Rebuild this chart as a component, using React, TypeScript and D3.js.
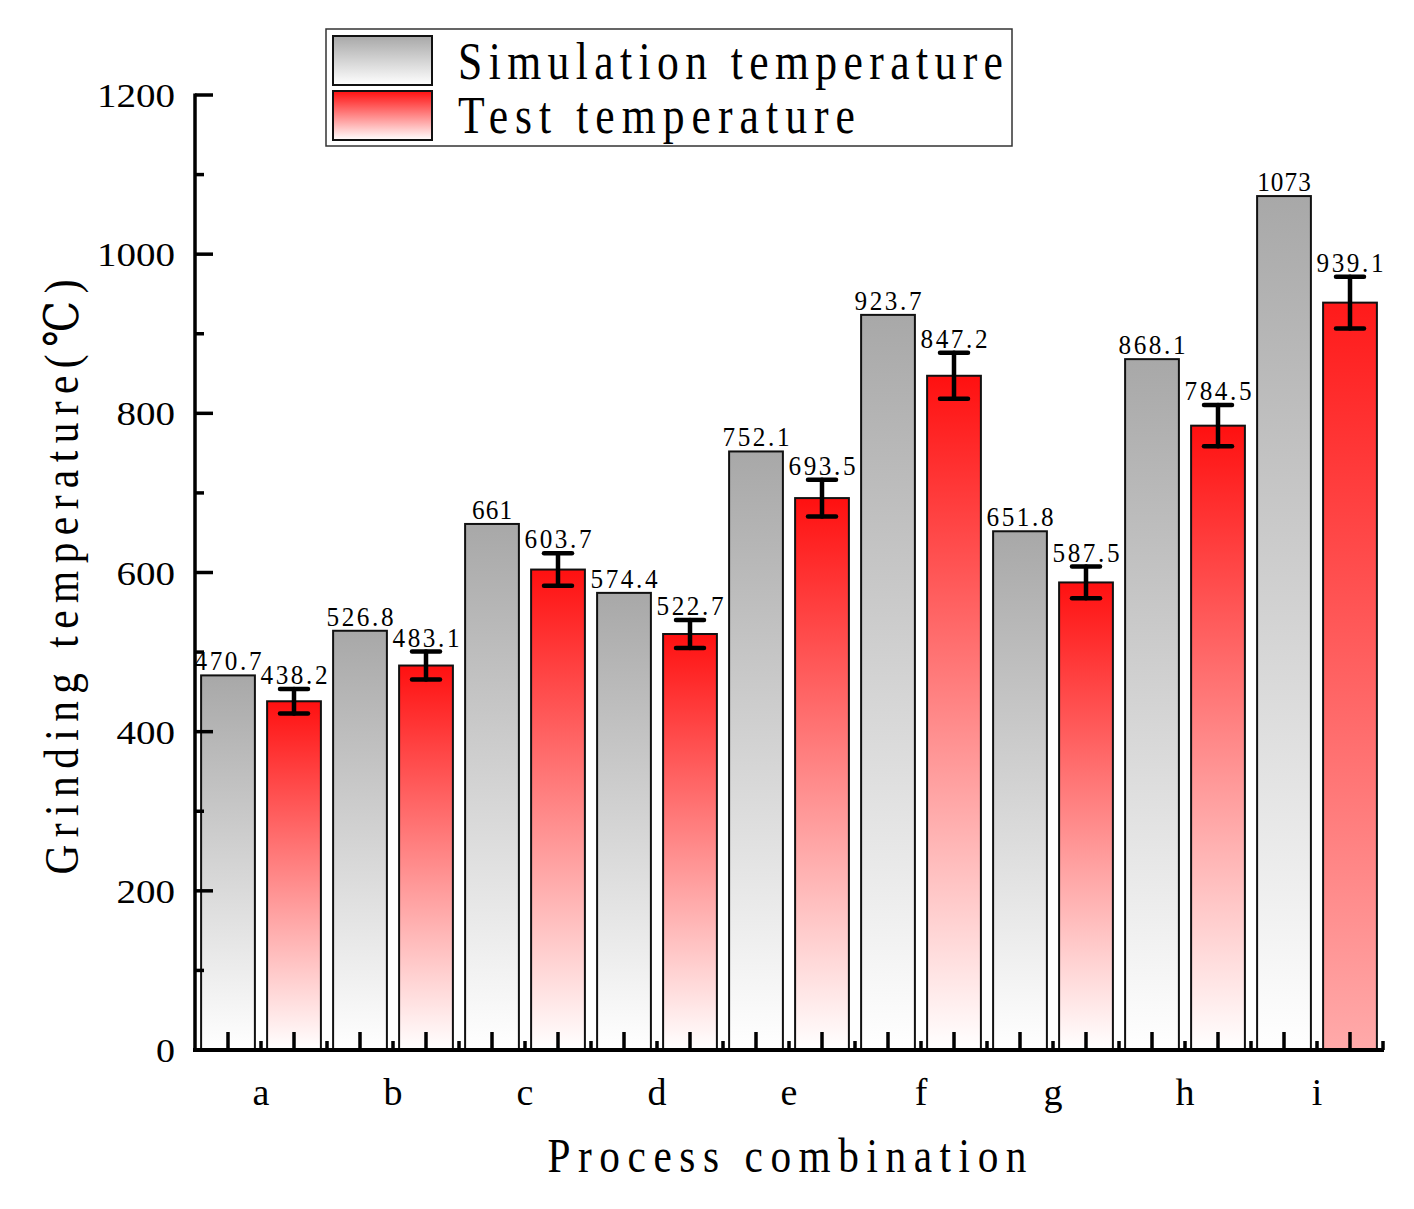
import * as d3 from "d3";

const categories = ["a", "b", "c", "d", "e", "f", "g", "h", "i"];
const simulation = [470.7, 526.8, 661, 574.4, 752.1, 923.7, 651.8, 868.1, 1073];
const test = [438.2, 483.1, 603.7, 522.7, 693.5, 847.2, 587.5, 784.5, 939.1];
const testError = [15.5, 17.5, 20.5, 17.5, 23, 29, 20, 26, 32.5];
const simLabels = ["470.7", "526.8", "661", "574.4", "752.1", "923.7", "651.8", "868.1", "1073"];
const testLabels = ["438.2", "483.1", "603.7", "522.7", "693.5", "847.2", "587.5", "784.5", "939.1"];
const yTicks = [0, 200, 400, 600, 800, 1000, 1200];

const W = 1414;
const H = 1209;
const FONT = "'Liberation Serif', 'DejaVu Serif', serif";

// narrow glyphs spread out to a given width, imitating the original's CJK serif font
function SText(props: {
  x: number;
  y: number;
  size: number;
  len: number;
  anchor?: string;
  sx?: number;
  rotate?: number;
  children: string;
}) {
  const sx = props.sx ?? 0.85;
  const rot = props.rotate ? ` rotate(${props.rotate})` : "";
  return (
    <text
      transform={`translate(${props.x},${props.y})${rot} scale(${sx},1)`}
      textAnchor={props.anchor ?? "start"}
      fontSize={props.size}
      textLength={props.len / sx}
      lengthAdjust="spacing"
    >
      {props.children}
    </text>
  );
}

export default function App() {
  const nBars = categories.length * 2;
  const x = d3.scaleLinear().domain([-0.5, nBars - 0.5]).range([195, 1383]);
  const y = d3.scaleLinear().domain([0, 1200]).range([1050, 95]);
  const step = x(1) - x(0);
  const barW = step * 0.815;

  const majorX = d3.range(0, nBars);
  const minorX = d3.range(0.5, nBars, 1);
  const minorY = d3.range(100, 1200, 200);

  const labelLen = (s: string) => s.length * 13.4;

  return (
    <svg
      width={W}
      height={H}
      viewBox={`0 0 ${W} ${H}`}
      style={{ position: "absolute", left: 0, top: 0, background: "#fff" }}
      fontFamily={FONT}
    >
      <defs>
        <linearGradient id="gSim" x1="0" y1="0" x2="0" y2="1">
          <stop offset="0" stopColor="#a8a8a8" />
          <stop offset="1" stopColor="#ffffff" />
        </linearGradient>
        <linearGradient id="gTest" x1="0" y1="0" x2="0" y2="1">
          <stop offset="0" stopColor="#ff1010" />
          <stop offset="1" stopColor="#ffffff" />
        </linearGradient>
        <linearGradient id="gTestLast" x1="0" y1="0" x2="0" y2="1">
          <stop offset="0" stopColor="#ff1a1a" />
          <stop offset="1" stopColor="#ffaaaa" />
        </linearGradient>
      </defs>

      {/* bars */}
      {categories.map((c, i) => {
        const xs = x(i * 2);
        const xt = x(i * 2 + 1);
        const ys = y(simulation[i]);
        const yt = y(test[i]);
        const eTop = y(test[i] + testError[i]);
        const eBot = y(test[i] - testError[i]);
        return (
          <g key={c}>
            <rect
              x={xs - barW / 2}
              y={ys}
              width={barW}
              height={y(0) - ys}
              fill="url(#gSim)"
              stroke="#111"
              strokeWidth={2}
            />
            <rect
              x={xt - barW / 2}
              y={yt}
              width={barW}
              height={y(0) - yt}
              fill={i === categories.length - 1 ? "url(#gTestLast)" : "url(#gTest)"}
              stroke="#111"
              strokeWidth={2}
            />
            <g stroke="#000" strokeWidth={4.5} strokeLinecap="round">
              <line x1={xt} x2={xt} y1={eTop} y2={eBot} />
              <line x1={xt - 14} x2={xt + 14} y1={eTop} y2={eTop} />
              <line x1={xt - 14} x2={xt + 14} y1={eBot} y2={eBot} />
            </g>
            <SText x={xs} y={ys - 5} size={28} len={labelLen(simLabels[i])} anchor="middle" sx={0.9}>
              {simLabels[i]}
            </SText>
            <SText x={xt} y={eTop - 5} size={28} len={labelLen(testLabels[i])} anchor="middle" sx={0.9}>
              {testLabels[i]}
            </SText>
            <text x={(xs + xt) / 2} y={1105} textAnchor="middle" fontSize={38}>
              {c}
            </text>
          </g>
        );
      })}

      {/* y axis */}
      <line x1={x(-0.5)} x2={x(-0.5)} y1={y(1200) - 1.5} y2={y(0)} stroke="#000" strokeWidth={3.5} />
      {yTicks.map((t) => (
        <g key={t}>
          <line x1={x(-0.5)} x2={x(-0.5) + 18} y1={y(t)} y2={y(t)} stroke="#000" strokeWidth={3.5} />
          <text
            x={175}
            y={y(t) + 12}
            textAnchor="end"
            fontSize={34}
            textLength={t === 0 ? 19 : String(t).length * 19.5}
            lengthAdjust="spacingAndGlyphs"
          >
            {t}
          </text>
        </g>
      ))}
      {minorY.map((t) => (
        <line key={t} x1={x(-0.5)} x2={x(-0.5) + 9} y1={y(t)} y2={y(t)} stroke="#000" strokeWidth={3.5} />
      ))}

      {/* x axis */}
      <line x1={x(-0.5) - 2} x2={x(nBars - 0.5) + 1} y1={y(0)} y2={y(0)} stroke="#000" strokeWidth={4} />
      {majorX.map((t) => (
        <line key={t} x1={x(t)} x2={x(t)} y1={y(0)} y2={y(0) - 18} stroke="#000" strokeWidth={3.5} />
      ))}
      {minorX.map((t) => (
        <line key={t} x1={x(t)} x2={x(t)} y1={y(0)} y2={y(0) - 9} stroke="#000" strokeWidth={3.5} />
      ))}

      {/* axis titles */}
      <SText x={787} y={1172} size={48} len={479} anchor="middle" sx={0.86}>
        Process combination
      </SText>
      <SText x={78} y={577} size={48} len={595} anchor="middle" sx={0.86} rotate={-90}>
        Grinding temperature(℃)
      </SText>

      {/* legend */}
      <rect x={326} y={29} width={686} height={117} fill="#fff" stroke="#333" strokeWidth={1.5} />
      <rect x={333} y={36} width={99} height={49} fill="url(#gSim)" stroke="#111" strokeWidth={2} />
      <rect x={333} y={91} width={99} height={49} fill="url(#gTest)" stroke="#111" strokeWidth={2} />
      <SText x={458} y={79} size={52} len={545} sx={0.84}>
        Simulation temperature
      </SText>
      <SText x={458} y={133} size={52} len={397} sx={0.84}>
        Test temperature
      </SText>
    </svg>
  );
}
